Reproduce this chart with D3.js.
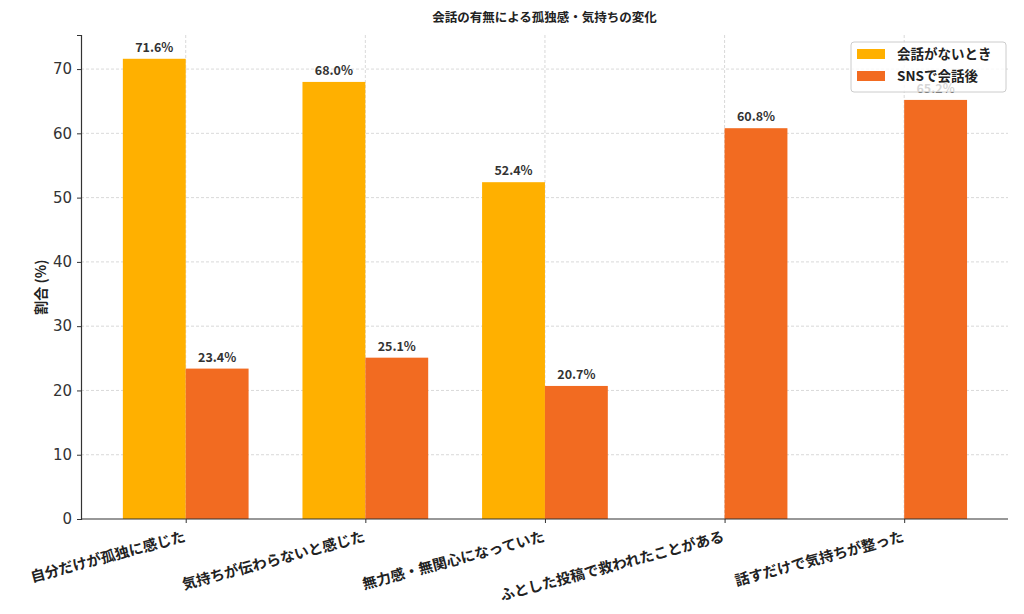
<!DOCTYPE html>
<html><head><meta charset="utf-8">
<script src="https://cdn.jsdelivr.net/npm/d3@7"></script>
<style>body{margin:0;background:#fff}svg{display:block}</style>
</head><body>
<script>
const categories = ["自分だけが孤独に感じた","気持ちが伝わらないと感じた","無力感・無関心になっていた","ふとした投稿で救われたことがある","話すだけで気持ちが整った"];
const seriesNames = ["会話がないとき","SNSで会話後"];
const beforeValues = [71.6, 68.0, 52.4, null, null];
const afterValues = [23.4, 25.1, 20.7, 60.8, 65.2];
const yTicks = [0,10,20,30,40,50,60,70];
const colors = ["#FFB000","#F26B21"];

const W=1024,H=614;
const m={l:81,r:16,t:35,b:95};
const svg=d3.select("body").append("svg").attr("width",W).attr("height",H);
const font="'Noto Sans CJK JP','Noto Sans',sans-serif";
const x=d3.scaleLinear().domain([-0.583,4.578]).range([m.l,W-m.r]);
const y=d3.scaleLinear().domain([0,75.3]).range([H-m.b,m.t]);
const bw=0.35;

// grid
const g=svg.append("g");
g.selectAll(".hg").data(yTicks.filter(d=>d>0)).join("line")
 .attr("x1",m.l).attr("x2",W-m.r).attr("y1",d=>y(d)).attr("y2",d=>y(d))
 .attr("stroke","#cfcfcf").attr("stroke-width",0.8).attr("stroke-dasharray","3,2");
g.selectAll(".vg").data(categories.map((c,i)=>i)).join("line")
 .attr("y1",m.t).attr("y2",H-m.b).attr("x1",d=>x(d)).attr("x2",d=>x(d))
 .attr("stroke","#cfcfcf").attr("stroke-width",0.8).attr("stroke-dasharray","3,2");

const series=[beforeValues,afterValues];
series.forEach((vals,si)=>{
  const off = si===0 ? -bw : 0;
  const data = vals.map((v,i)=>({i,v})).filter(d=>d.v!=null);
  svg.append("g").selectAll("rect").data(data).join("rect")
   .attr("x",d=>x(d.i+off)).attr("width",d=>x(d.i+off+bw)-x(d.i+off))
   .attr("y",d=>y(d.v)).attr("height",d=>y(0)-y(d.v)).attr("fill",colors[si]);
  svg.append("g").selectAll("text").data(data).join("text")
   .attr("x",d=>x(d.i+off+bw/2)).attr("y",d=>y(d.v)-7)
   .attr("text-anchor","middle").attr("font-family",font).attr("font-weight","bold")
   .attr("font-size",12.5).attr("fill","#333").text(d=>d.v.toFixed(1)+"%");
});

// axes
const ya=svg.append("g").attr("transform",`translate(${m.l},0)`)
 .call(d3.axisLeft(y).tickValues(yTicks).tickSize(4).tickPadding(5));
ya.select(".domain").attr("stroke","#333").attr("stroke-width",1.2);
ya.selectAll("text").attr("font-family","'DejaVu Sans',sans-serif").attr("font-size",15).attr("fill","#333");
ya.selectAll(".tick line").attr("stroke","#333");

const xa=svg.append("g").attr("transform",`translate(0,${H-m.b})`)
 .call(d3.axisBottom(x).tickValues(categories.map((c,i)=>i)).tickFormat(i=>categories[i]).tickSize(4).tickSizeOuter(0));
xa.select(".domain").attr("stroke","#333").attr("stroke-width",1.2).attr("d",`M${m.l},0H${W-m.r}`);
xa.selectAll(".tick line").attr("stroke","#333");
xa.selectAll("text").attr("font-family",font).attr("font-weight","bold").attr("font-size",14.5).attr("fill","#222")
 .attr("text-anchor","end").attr("dy",0).attr("y",0)
 .attr("transform","translate(0,22) rotate(-15)");

// titles
svg.append("text").attr("x",(m.l+W-m.r)/2).attr("y",22).attr("text-anchor","middle")
 .attr("font-family",font).attr("font-weight","bold").attr("font-size",12.5).attr("fill","#222")
 .text("会話の有無による孤独感・気持ちの変化");
svg.append("text").attr("transform",`translate(46,${(m.t+H-m.b)/2+10}) rotate(-90)`).attr("text-anchor","middle")
 .attr("font-family",font).attr("font-weight","bold").attr("font-size",14).attr("fill","#222")
 .text("割合 (%)");

// legend
const lg=svg.append("g").attr("transform","translate(851,42)");
lg.append("rect").attr("width",155).attr("height",50).attr("rx",3)
 .attr("fill","#fff").attr("fill-opacity",0.8).attr("stroke","#ccc");
seriesNames.forEach((n,i)=>{
  lg.append("rect").attr("x",6).attr("y",7+i*22).attr("width",28).attr("height",10).attr("fill",colors[i]);
  lg.append("text").attr("x",46).attr("y",17+i*22).attr("font-family",font).attr("font-weight","bold")
   .attr("font-size",13.5).attr("fill","#222").text(n);
});
</script>
</body></html>
